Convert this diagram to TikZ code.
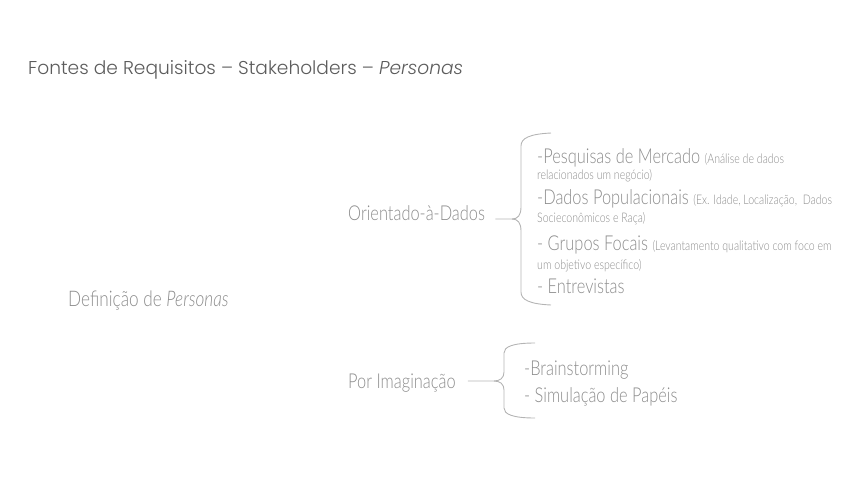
\documentclass[tikz,border=0pt]{standalone}
\usepackage{fontspec}
\setmainfont{Lato}[UprightFont=* Light, ItalicFont=* Light Italic, FakeStretch=0.8]
\newfontfamily\titlefont{Poppins}[UprightFont=* Light, ItalicFont=* Light Italic]
\definecolor{txtgray}{HTML}{8C8C8C}
\definecolor{ttlgray}{HTML}{5C5C5C}
\definecolor{bracegray}{HTML}{B4B4B4}
\tikzset{
    lbl/.style={anchor=base west, inner sep=0pt, text=txtgray, font=\fontsize{20.5}{22}\selectfont},
    item/.style={lbl},
    brc/.style={draw=bracegray, line width=0.9pt},
}
\newcommand{\smalltxt}[1]{{\fontsize{13.2}{15}\selectfont #1}}

\begin{document}
\begin{tikzpicture}[x=1pt, y=-1pt]
            \useasboundingbox (0, 0) rectangle (868, 491);
            %\draw[lightgray] (0, 0) grid[step=50] (868, 491);
            \node[anchor=base west, inner sep=0pt, text=ttlgray, font=\titlefont\fontsize{18.6}{20}\selectfont] (title) at (28, 74) {Fontes de Requisitos – Stakeholders – \textit{Personas}};
            \node[lbl, font=\fontsize{21.5}{23}\selectfont] (defn) at (68, 306) {Definição de \textit{Personas}};
            % orientado a dados
            \node[lbl] (orient) at (348, 220) {Orientado-à-Dados};
            \node[item] (pesq) at (537, 163) {-Pesquisas de Mercado \smalltxt{(Análise de dados}};
            \node[item] (pesq2) at (537, 179) {\smalltxt{relacionados um negócio)}};
            \node[item] (popul) at (537, 204) {-Dados Populacionais \smalltxt{(Ex. Idade, Localização, \ Dados}};
            \node[item] (popul2) at (537, 222) {\smalltxt{Socieconômicos e Raça)}};
            \node[item] (focal) at (537, 250) {- Grupos Focais \smalltxt{(Levantamento qualitativo com foco em}};
            \node[item] (focal2) at (537, 269) {\smalltxt{um objetivo específico)}};
            \node[item] (entrev) at (537, 293) {- Entrevistas};
            \coordinate (t1) at ([xshift=10pt]orient.east |- 0, 219);
            \draw[brc] (t1) -- (512, 219) .. controls (518, 219) and (521, 215) .. (521, 207) -- (521, 146) .. controls (521, 138) and (530, 134) .. (551, 133);
            \draw[brc] (512, 219) .. controls (518, 219) and (521, 223) .. (521, 231) -- (521, 292) .. controls (521, 300) and (530, 304) .. (551, 305);
            % por imaginacao
            \node[lbl] (imag) at (348, 388) {Por Imaginação};
            \node[item] (brain) at (524, 375) {-Brainstorming};
            \node[item] (simul) at (524, 402) {- Simulação de Papéis};
            \coordinate (t2) at ([xshift=12pt]imag.east |- 0, 381);
            \draw[brc] (t2) -- (494, 381) .. controls (500, 381) and (504, 378) .. (504, 372) -- (504, 353) .. controls (504, 347) and (512, 343) .. (535, 343);
            \draw[brc] (494, 381) .. controls (500, 381) and (504, 384) .. (504, 390) -- (504, 408) .. controls (504, 414) and (512, 418) .. (535, 418);
        \end{tikzpicture}
\end{document}
